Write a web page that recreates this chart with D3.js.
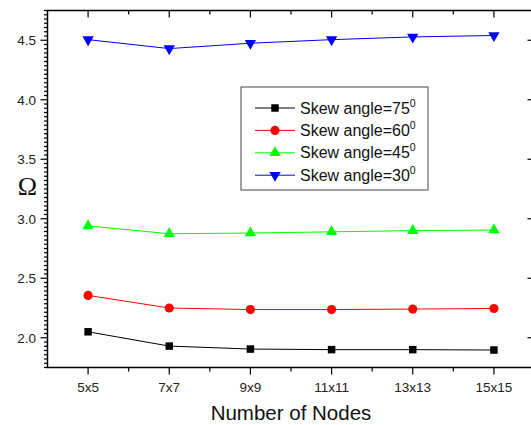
<!DOCTYPE html>
<html>
<head>
<meta charset="utf-8">
<script src="https://cdn.jsdelivr.net/npm/d3@7"></script>
<style>
  body { margin: 0; background: #fff; }
  text { font-family: Arial, "Liberation Sans", sans-serif; }
</style>
</head>
<body>
<div id="chart"></div>
<script>
const width = 531;
const height = 425;

// categories on the x axis
const nodeLabels = ["5x5", "7x7", "9x9", "11x11", "13x13", "15x15"];

// Omega values for each skew angle
const skew75 = [2.05, 1.93, 1.905, 1.90, 1.90, 1.897];
const skew60 = [2.356, 2.25, 2.237, 2.237, 2.241, 2.246];
const skew45 = [2.94, 2.874, 2.88, 2.89, 2.90, 2.905];
const skew30 = [4.505, 4.43, 4.475, 4.505, 4.528, 4.54];

const yTicks = [2.0, 2.5, 3.0, 3.5, 4.0, 4.5];

const series = [
  { name: "Skew angle=75", sup: "0", values: skew75, color: "#000000", symbol: d3.symbolSquare, size: 56, rotate: 0 },
  { name: "Skew angle=60", sup: "0", values: skew60, color: "#ff0000", symbol: d3.symbolCircle, size: 66, rotate: 0 },
  { name: "Skew angle=45", sup: "0", values: skew45, color: "#00ff00", symbol: d3.symbolTriangle, size: 56, rotate: 0 },
  { name: "Skew angle=30", sup: "0", values: skew30, color: "#0000ff", symbol: d3.symbolTriangle, size: 56, rotate: 180 }
];

// plot frame
const pLeft = 47.5, pRight = 534.5, pTop = 10.5, pBottom = 367.5;

const x = d3.scaleLinear().domain([-0.5, nodeLabels.length - 0.5]).range([pLeft, pRight]);
const y = d3.scaleLinear().domain([1.75, 4.75]).range([pBottom, pTop]);

const svg = d3.select("#chart").append("svg")
  .attr("width", width)
  .attr("height", height);

// minor ticks positions
const xMajor = d3.range(nodeLabels.length);
const xMinor = d3.range(nodeLabels.length - 1).map(i => i + 0.5);
const yMinor = d3.range(1.75, 4.751, 0.5 / 14).filter(v => !yTicks.some(t => Math.abs(t - v) < 1e-6));

const axisG = svg.append("g").attr("stroke", "#000").attr("stroke-width", 1.2);

// bottom axis (ticks outwards)
axisG.selectAll(".bmaj").data(xMajor).enter().append("line")
  .attr("x1", d => x(d)).attr("x2", d => x(d))
  .attr("y1", pBottom).attr("y2", pBottom + 7);
axisG.selectAll(".bmin").data(xMinor).enter().append("line")
  .attr("x1", d => x(d)).attr("x2", d => x(d))
  .attr("y1", pBottom).attr("y2", pBottom + 4);

// top axis (ticks inwards)
axisG.selectAll(".tmaj").data(xMajor).enter().append("line")
  .attr("x1", d => x(d)).attr("x2", d => x(d))
  .attr("y1", pTop).attr("y2", pTop + 7);
axisG.selectAll(".tmin").data(xMinor).enter().append("line")
  .attr("x1", d => x(d)).attr("x2", d => x(d))
  .attr("y1", pTop).attr("y2", pTop + 4);

// left axis (ticks outwards)
axisG.selectAll(".lmaj").data(yTicks).enter().append("line")
  .attr("x1", pLeft - 7).attr("x2", pLeft)
  .attr("y1", d => y(d)).attr("y2", d => y(d));
axisG.selectAll(".lmin").data(yMinor).enter().append("line")
  .attr("x1", pLeft - 3.5).attr("x2", pLeft)
  .attr("y1", d => y(d)).attr("y2", d => y(d));

// right axis (ticks inwards)
axisG.selectAll(".rmaj").data(yTicks).enter().append("line")
  .attr("x1", pRight - 7).attr("x2", pRight)
  .attr("y1", d => y(d)).attr("y2", d => y(d));

// frame lines
axisG.append("rect")
  .attr("x", pLeft).attr("y", pTop)
  .attr("width", pRight - pLeft).attr("height", pBottom - pTop)
  .attr("fill", "none").attr("stroke-width", 1.5);

// tick labels
svg.selectAll(".xlab").data(nodeLabels).enter().append("text")
  .attr("x", (d, i) => x(i))
  .attr("y", 391.5)
  .attr("text-anchor", "middle")
  .attr("font-size", "13.5px")
  .attr("fill", "#222")
  .text(d => d);

svg.selectAll(".ylab").data(yTicks).enter().append("text")
  .attr("x", 36)
  .attr("y", d => y(d))
  .attr("dy", "0.36em")
  .attr("text-anchor", "end")
  .attr("font-size", "13.5px")
  .attr("fill", "#222")
  .text(d => d.toFixed(1));

// axis titles
svg.append("text")
  .attr("x", (pLeft + pRight) / 2)
  .attr("y", 420)
  .attr("text-anchor", "middle")
  .attr("font-size", "20.5px")
  .attr("fill", "#111")
  .text("Number of Nodes");

svg.append("text")
  .attr("x", 27.5)
  .attr("y", 195)
  .attr("text-anchor", "middle")
  .attr("font-size", "26px")
  .style("font-family", "'Liberation Serif', 'Times New Roman', serif")
  .attr("fill", "#111")
  .text("Ω");

// lines and markers
const line = d3.line()
  .x((d, i) => x(i))
  .y(d => y(d));

series.forEach(s => {
  svg.append("path")
    .datum(s.values)
    .attr("d", line)
    .attr("fill", "none")
    .attr("stroke", s.color)
    .attr("stroke-width", 1);

  svg.selectAll(null).data(s.values).enter().append("path")
    .attr("d", d3.symbol().type(s.symbol).size(s.size))
    .attr("transform", (d, i) => `translate(${x(i)},${y(d)}) rotate(${s.rotate})`)
    .attr("fill", s.color);
});

// legend
const legend = svg.append("g");
legend.append("rect")
  .attr("x", 241).attr("y", 87)
  .attr("width", 187).attr("height", 103)
  .attr("fill", "#fff")
  .attr("stroke", "#444")
  .attr("stroke-width", 1);

series.forEach((s, i) => {
  const cy = 108 + i * 22.4;
  legend.append("line")
    .attr("x1", 255).attr("x2", 295)
    .attr("y1", cy).attr("y2", cy)
    .attr("stroke", s.color).attr("stroke-width", 1);
  legend.append("path")
    .attr("d", d3.symbol().type(s.symbol).size(s.size))
    .attr("transform", `translate(275,${cy}) rotate(${s.rotate})`)
    .attr("fill", s.color);
  const t = legend.append("text")
    .attr("x", 300)
    .attr("y", cy + 5.5)
    .attr("font-size", "16px")
    .attr("fill", "#111");
  t.append("tspan").text(s.name);
  t.append("tspan")
    .attr("dy", -7)
    .attr("font-size", "10.5px")
    .text(s.sup);
});
</script>
</body>
</html>
